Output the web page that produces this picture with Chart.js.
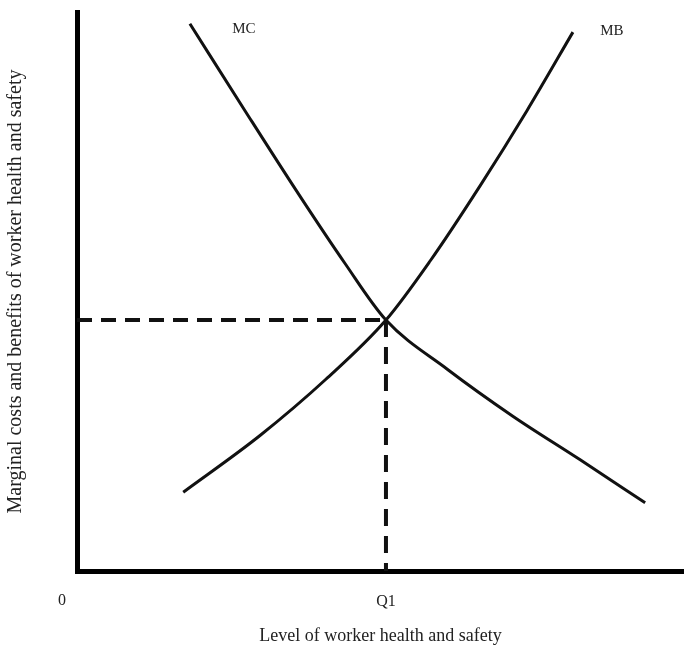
<!DOCTYPE html>
<html>
<head>
<meta charset="utf-8">
<script src="https://cdn.jsdelivr.net/npm/chart.js@4.4.0/dist/chart.umd.min.js"></script>
<style>
  html, body { margin: 0; padding: 0; background: #fff; }
  #wrap { width: 684px; height: 648px; }
</style>
</head>
<body>
<div id="wrap"><canvas id="chart"></canvas></div>
<script>
// curve points (x: 0-100 along the axis, y: 0-100 up the axis)
const mcX = [18.6, 27.7, 36.7, 44.1, 50.9, 61.0, 71.8, 82.9, 93.6];
const mcY = [97.9, 82.3, 67.1, 55.1, 44.9, 36.1, 27.7, 19.9, 12.2];
const mbX = [17.5, 30.1, 41.0, 50.9, 58.2, 66.4, 74.1, 81.7];
const mbY = [14.1, 24.2, 34.3, 44.9, 55.5, 68.9, 82.3, 96.4];

const q1 = 50.9;      // equilibrium quantity
const pStar = 44.9;   // equilibrium level on the vertical axis

const xTickLabels = ['0', 'Q1'];
const curveNames = ['MC', 'MB'];
const xTitle = 'Level of worker health and safety';
const yTitle = 'Marginal costs and benefits of worker health and safety';

const serif = "'Liberation Serif', 'Times New Roman', serif";
const ink = '#111';

function toPoints(xs, ys) {
  return xs.map((x, i) => ({ x: x, y: ys[i] }));
}

// curve names near the top ends, and the "0" at the origin
const textLabels = {
  id: 'textLabels',
  afterDatasetsDraw(chart) {
    const { ctx, scales: { x, y } } = chart;
    ctx.save();
    ctx.fillStyle = '#222';
    ctx.font = '15px ' + serif;
    ctx.textAlign = 'center';
    ctx.textBaseline = 'middle';
    ctx.fillText(curveNames[0], x.getPixelForValue(mcX[0]) + 54, y.getPixelForValue(mcY[0]) + 5);
    ctx.fillText(curveNames[1], x.getPixelForValue(mbX[mbX.length - 1]) + 39, y.getPixelForValue(mbY[mbY.length - 1]) - 1);
    ctx.font = '16px ' + serif;
    ctx.fillText(xTickLabels[0], x.getPixelForValue(0) - 15, y.getPixelForValue(0) + 30);
    ctx.restore();
  }
};

const ctx = document.getElementById('chart').getContext('2d');

new Chart(ctx, {
  type: 'line',
  data: {
    datasets: [
      {
        label: curveNames[0],
        data: toPoints(mcX, mcY),
        borderColor: ink,
        borderWidth: 3,
        pointRadius: 0,
        cubicInterpolationMode: 'monotone',
        fill: false
      },
      {
        label: curveNames[1],
        data: toPoints(mbX, mbY),
        borderColor: ink,
        borderWidth: 3,
        pointRadius: 0,
        cubicInterpolationMode: 'monotone',
        fill: false
      },
      {
        label: 'level',
        data: [{ x: 0, y: pStar }, { x: q1, y: pStar }],
        borderColor: ink,
        borderWidth: 4,
        borderDash: [15, 9],
        pointRadius: 0,
        tension: 0
      },
      {
        label: 'quantity',
        data: [{ x: q1, y: pStar }, { x: q1, y: 0 }],
        borderColor: ink,
        borderWidth: 4,
        borderDash: [17, 10],
        pointRadius: 0,
        tension: 0
      }
    ]
  },
  options: {
    responsive: true,
    maintainAspectRatio: false,
    animation: false,
    layout: { padding: { top: 12, left: 0, right: 0, bottom: 0 } },
    plugins: {
      legend: { display: false },
      tooltip: { enabled: false }
    },
    scales: {
      x: {
        type: 'linear',
        min: 0,
        max: 100,
        grid: { display: false, drawTicks: false },
        border: { display: true, color: '#000', width: 5 },
        afterBuildTicks: (scale) => { scale.ticks = [{ value: q1 }]; },
        afterFit: (scale) => { scale.height = 77; },
        ticks: {
          autoSkip: false,
          maxRotation: 0,
          padding: 21,
          color: '#222',
          font: { family: serif, size: 16 },
          callback: (v) => (v === q1 ? xTickLabels[1] : '')
        },
        title: {
          display: true,
          text: xTitle,
          color: '#222',
          font: { family: serif, size: 18 },
          padding: { top: 0, bottom: 1 }
        }
      },
      y: {
        type: 'linear',
        min: 0,
        max: 100,
        grid: { display: false, drawTicks: false },
        border: { display: true, color: '#000', width: 5 },
        afterFit: (scale) => { scale.width = 77; },
        ticks: { display: false },
        title: {
          display: true,
          text: yTitle,
          color: '#222',
          font: { family: serif, size: 20 },
          padding: { top: 4, bottom: 0 }
        }
      }
    }
  },
  plugins: [textLabels]
});
</script>
</body>
</html>
